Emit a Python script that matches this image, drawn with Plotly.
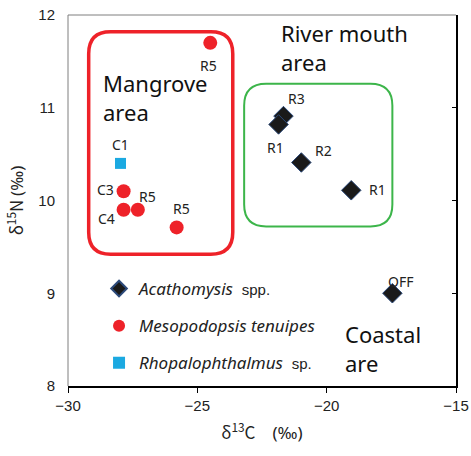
import plotly.graph_objects as go

# d13C / d15N values
acatho_x = [-21.67, -21.86, -20.98, -19.05, -17.46]
acatho_y = [10.91, 10.82, 10.41, 10.11, 9.00]
acatho_lbl = ["R3", "R1", "R2", "R1", "OFF"]

meso_x = [-24.5, -27.85, -27.85, -27.3, -25.8]
meso_y = [11.70, 10.10, 9.90, 9.90, 9.71]
meso_lbl = ["R5", "C3", "C4", "R5", "R5"]

rhopa_x = [-27.97]
rhopa_y = [10.40]
rhopa_lbl = ["C1"]

# label offsets in px (x right, y up)
acatho_off = [(13, 18), (-3, -23), (22, 12), (26, 1), (8, 12)]
meso_off = [(-2, -23), (-18, 2), (-17, -9), (10, 13), (5, 19)]
rhopa_off = [(0, 19)]

TXT = "Noto Sans"
JP = "Noto Sans CJK JP"
TICK = "Liberation Sans"

fig = go.Figure()

fig.add_trace(go.Scatter(
    x=acatho_x, y=acatho_y, mode="markers", name="<i>Acathomysis</i>  <span style='font-family:Liberation Sans;font-size:15px'>spp.</span>",
    legendgroup="a",
    marker=dict(symbol="diamond", size=15, color="#1a1a1a", line=dict(color="#2c4a7a", width=1))))
fig.add_trace(go.Scatter(
    x=meso_x, y=meso_y, mode="markers", name="<i>Mesopodopsis tenuipes</i>",
    legendgroup="m",
    marker=dict(symbol="circle", size=14, color="#ee2229")))
fig.add_trace(go.Scatter(
    x=rhopa_x, y=rhopa_y, mode="markers", name="<i>Rhopalophthalmus</i>  <span style='font-family:Liberation Sans;font-size:15px'>sp.</span>",
    legendgroup="r",
    marker=dict(symbol="square", size=11, color="#1ba9e1")))

for xs, ys, ls, offs in [(acatho_x, acatho_y, acatho_lbl, acatho_off),
                         (meso_x, meso_y, meso_lbl, meso_off),
                         (rhopa_x, rhopa_y, rhopa_lbl, rhopa_off)]:
    for x, y, t, (dx, dy) in zip(xs, ys, ls, offs):
        fig.add_annotation(x=x, y=y, text=t, showarrow=False, xshift=dx, yshift=dy,
                           font=dict(family=TXT, size=14, color="#222"))


def rounded(x0, y0, x1, y1, rx, ry):
    return (f"M {x0+rx},{y0} L {x1-rx},{y0} Q {x1},{y0} {x1},{y0+ry} "
            f"L {x1},{y1-ry} Q {x1},{y1} {x1-rx},{y1} L {x0+rx},{y1} "
            f"Q {x0},{y1} {x0},{y1-ry} L {x0},{y0+ry} Q {x0},{y0} {x0+rx},{y0} Z")


rx, ry = 22 / 25.89, 22 / 93
fig.add_shape(type="path", xref="x", yref="y", layer="below",
              path=rounded(-23.19, 9.72, -17.46, 11.26, rx, ry),
              line=dict(color="#3cb54a", width=2))
fig.add_shape(type="path", xref="x", yref="y", layer="below",
              path=rounded(-29.2, 9.42, -23.63, 11.82, rx, ry),
              line=dict(color="#ee2229", width=3.5))

# plot border: thin grey top and left
fig.add_shape(type="line", xref="paper", yref="paper", x0=0, x1=1, y0=1, y1=1,
              line=dict(color="#7f7f7f", width=1))
fig.add_shape(type="line", xref="paper", yref="paper", x0=0, x1=0, y0=0, y1=1,
              line=dict(color="#7f7f7f", width=1))

def area_text(txt, px, py):
    fig.add_annotation(xref="paper", yref="paper", x=(px - 67.7) / 388.3, y=(386.7 - py) / 372,
                       text=txt, showarrow=False, xanchor="left", yanchor="middle", align="left",
                       font=dict(family=TXT, size=22, color="#111"))

area_text("Mangrove<br>area", 101, 97)
area_text("River mouth<br>area", 279, 47)
area_text("Coastal<br>are", 343, 349)

PM = "<span style='font-family:Noto Sans'>(‰)</span>"

fig.update_layout(
    width=471, height=456,
    margin=dict(l=68, r=15, t=15, b=70, autoexpand=False),
    plot_bgcolor="white", paper_bgcolor="white",
    showlegend=True,
    legend=dict(x=0.08, y=0.31, xanchor="left", yanchor="top", bgcolor="rgba(0,0,0,0)",
                font=dict(family=TXT, size=17, color="#222"), itemsizing="constant",
                traceorder="grouped", tracegroupgap=12, itemwidth=30),
    xaxis=dict(range=[-30, -15], dtick=5, showgrid=False, zeroline=False, automargin=False,
               showline=True, linecolor="black", linewidth=2, ticklabeloverflow="allow",
               ticks="outside", ticklen=5, tickcolor="black",
               tickfont=dict(family=TICK, size=15, color="#222"),
               title=dict(text="δ<sup>13</sup>C\u3000" + PM, standoff=14,
                          font=dict(family=JP, size=17, color="#222"))),
    yaxis=dict(range=[8, 12], dtick=1, showgrid=False, zeroline=False, automargin=False,
               showline=False, ticks="", ticklabelstandoff=12, ticklabeloverflow="allow",
               tickfont=dict(family=TICK, size=15, color="#222"),
               title=dict(text="δ<sup>15</sup>N " + PM, standoff=10,
                          font=dict(family=JP, size=17, color="#222"))),
    yaxis2=dict(range=[8, 12], dtick=1, overlaying="y", side="right", showgrid=False,
                automargin=False,
                zeroline=False, showline=True, linecolor="black", linewidth=2,
                ticks="inside", ticklen=4, tickcolor="black", showticklabels=False),
)
fig.add_trace(go.Scatter(x=[None], y=[None], yaxis="y2", showlegend=False, hoverinfo="skip"))

# drop the default page margin so the figure sits at the window's corner
fig.write_html("out.html", config={"displayModeBar": False},
               post_script="document.body.style.margin='0';")
